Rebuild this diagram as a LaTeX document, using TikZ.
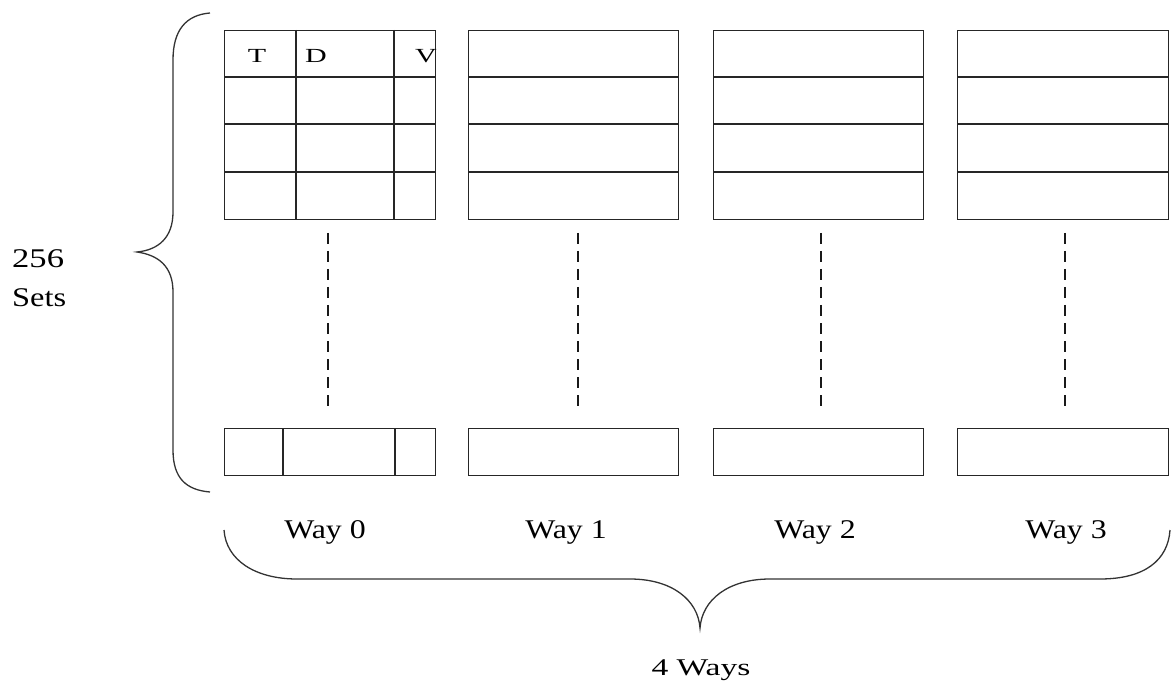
\documentclass[tikz,border=0pt]{standalone}
\usepackage{fontspec}
\setmainfont{Liberation Serif}
\newcommand{\hs}[2]{\scalebox{#1}[1]{#2}}
\begin{document}
\begin{tikzpicture}[x=1pt,y=-1pt,
  blk/.style={draw=black!85,line width=1.3pt,inner sep=0pt,anchor=north west},
  ln/.style={draw=black!85,line width=1.3pt},
  dsh/.style={draw=black!90,line width=2pt,dash pattern=on 11pt off 7pt},
  brc/.style={draw=black!80,line width=1.3pt},
  lbl/.style={font=\fontsize{27}{30}\selectfont,inner sep=0pt,anchor=base},
  hdr/.style={font=\fontsize{20}{22}\selectfont,inner sep=0pt,anchor=base}]
\useasboundingbox (0,0) rectangle (1174,684);
% top blocks
\foreach \n/\x/\w in {w0/224/211, w1/468/210, w2/713/210, w3/957/211}{
  \node[blk,minimum width=\w pt,minimum height=189pt] (\n) at (\x,30) {};
  \draw[ln] ([yshift=-47pt]\n.north west) -- ([yshift=-47pt]\n.north east);
  \draw[ln] ([yshift=-94pt]\n.north west) -- ([yshift=-94pt]\n.north east);
  \draw[ln] ([yshift=-142pt]\n.north west) -- ([yshift=-142pt]\n.north east);
}
\draw[ln] (296,30) -- (296,219);
\draw[ln] (394,30) -- (394,219);
\node[hdr] (t) at (257,63) {\hs{1.5}{T}};
\node[hdr] (d) at (316,63) {\hs{1.5}{D}};
\node[hdr] (v) at (426,63) {\hs{1.5}{V}};
% bottom blocks
\foreach \n/\x/\w in {b0/224/211, b1/468/210, b2/713/210, b3/957/211}{
  \node[blk,minimum width=\w pt,minimum height=47pt] (\n) at (\x,428) {};
}
\draw[ln] (283,428) -- (283,475);
\draw[ln] (395,428) -- (395,475);
% dashed lines
\foreach \i/\x in {0/328,1/578,2/821,3/1065}{
  \coordinate (ds\i) at (\x,233);
  \coordinate (de\i) at (\x,413);
  \draw[dsh] (ds\i) -- (de\i);
}
% left brace
\draw[brc] (210,13) .. controls (186,15) and (173,30) .. (173,60) -- (173,212)
  .. controls (173,238) and (158,250) .. (137,252)
  .. controls (158,255) and (173,266) .. (173,292) -- (173,450)
  .. controls (173,478) and (186,490) .. (210,492);
\node[lbl,anchor=base west] (n256) at (12,268) {\hs{1.28}{256}};
\node[lbl,anchor=base west] (sets) at (12,306) {\hs{1.2}{Sets}};
% way labels
\node[lbl] (l0) at (325,538) {\hs{1.18}{Way 0}};
\node[lbl] (l1) at (566,538) {\hs{1.18}{Way 1}};
\node[lbl] (l2) at (815,538) {\hs{1.18}{Way 2}};
\node[lbl] (l3) at (1066,538) {\hs{1.18}{Way 3}};
% bottom brace
\draw[brc] (224,530) .. controls (226,560) and (255,579) .. (297,579) -- (630,579)
  .. controls (672,579) and (698,600) .. (700,628)
  .. controls (702,600) and (728,579) .. (770,579) -- (1100,579)
  .. controls (1145,579) and (1168,560) .. (1170,530);
\node[lbl,font=\fontsize{24}{26}\selectfont] (ways) at (701,675) {\hs{1.4}{4 Ways}};
\end{tikzpicture}
\end{document}
